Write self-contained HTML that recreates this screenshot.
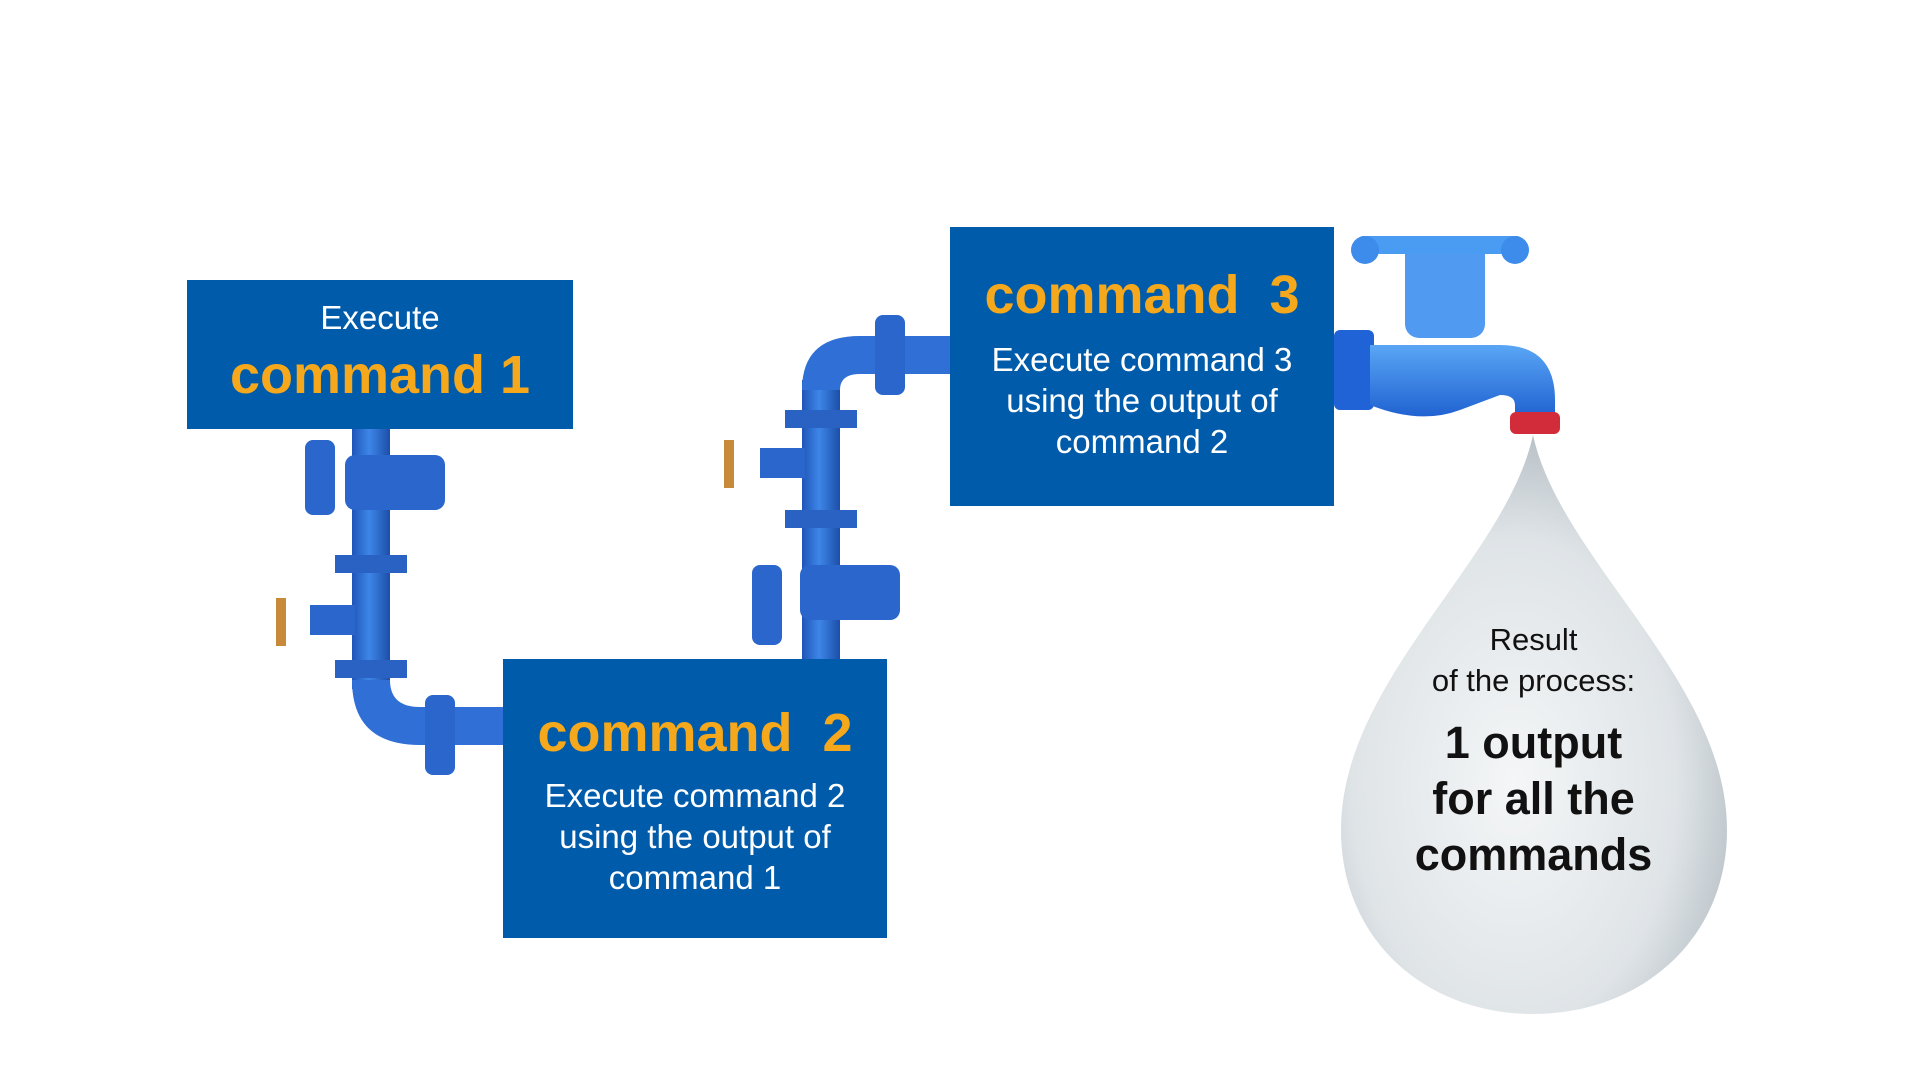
<!DOCTYPE html>
<html><head><meta charset="utf-8"><style>
body{margin:0;width:1920px;height:1080px;background:#fff;position:relative;overflow:hidden;font-family:"Liberation Sans",sans-serif}
.box{position:absolute;background:#005baa;color:#fff;text-align:center}
.or{color:#f5a81c;font-weight:bold;font-size:54px;line-height:60px}
.t{font-size:33px;line-height:41px}
svg{position:absolute;left:0;top:0}
.drop{position:absolute;left:1341px;top:560px;width:385px;text-align:center;color:#111}
</style></head><body>
<svg width="1920" height="1080">
<defs>
<linearGradient id="pv" x1="0" x2="1"><stop offset="0" stop-color="#1f55b8"/><stop offset=".45" stop-color="#3d86e8"/><stop offset="1" stop-color="#1c4ea8"/></linearGradient>
<radialGradient id="dr" cx=".45" cy=".6" r=".6"><stop offset="0" stop-color="#f4f6f7"/><stop offset=".7" stop-color="#dfe4e7"/><stop offset="1" stop-color="#b9c2c8"/></radialGradient>
<linearGradient id="tap" x1="0" x2="0" y1="0" y2="1"><stop offset="0" stop-color="#5aa6f5"/><stop offset="1" stop-color="#1d5fd0"/></linearGradient>
</defs>
<rect x="352" y="429" width="38" height="260" fill="url(#pv)"/>
<path d="M352 680 Q352 745 420 745 L503 745 L503 707 L420 707 Q390 707 390 680Z" fill="#2f6fd6"/>
<rect x="345" y="455" width="100" height="55" rx="10" fill="#2a66cc"/>
<rect x="305" y="440" width="30" height="75" rx="8" fill="#2a66cc"/>
<rect x="335" y="555" width="72" height="18" fill="#2a62c4"/><rect x="335" y="660" width="72" height="18" fill="#2a62c4"/>
<rect x="310" y="605" width="45" height="30" fill="#2a66cc"/>
<rect x="276" y="598" width="10" height="48" fill="#c78a3a"/>
<rect x="425" y="695" width="30" height="80" rx="8" fill="#2a66cc"/>
<rect x="802" y="380" width="38" height="280" fill="url(#pv)"/>
<path d="M802 390 Q802 336 860 336 L950 336 L950 374 L860 374 Q840 374 840 390Z" fill="#2f6fd6"/>
<rect x="875" y="315" width="30" height="80" rx="8" fill="#2a66cc"/>
<rect x="785" y="410" width="72" height="18" fill="#2a62c4"/><rect x="785" y="510" width="72" height="18" fill="#2a62c4"/>
<rect x="760" y="448" width="45" height="30" fill="#2a66cc"/>
<rect x="724" y="440" width="10" height="48" fill="#c78a3a"/>
<rect x="800" y="565" width="100" height="55" rx="10" fill="#2a66cc"/>
<rect x="752" y="565" width="30" height="80" rx="8" fill="#2a66cc"/>
<rect x="1334" y="330" width="40" height="80" rx="6" fill="#1f63d6"/>
<path d="M1370 345 L1500 345 Q1555 345 1555 400 L1555 420 L1515 420 L1515 405 Q1515 395 1500 395 L1460 410 Q1420 425 1370 405Z" fill="url(#tap)"/>
<rect x="1405" y="238" width="80" height="100" rx="14" fill="#3e8ff0" opacity=".9"/>
<rect x="1355" y="236" width="170" height="18" rx="9" fill="#4a9bf2"/>
<circle cx="1365" cy="250" r="14" fill="#3d8cec"/><circle cx="1515" cy="250" r="14" fill="#3d8cec"/>
<rect x="1510" y="412" width="50" height="22" rx="6" fill="#d22b3a"/>
<path d="M1533 435 C1560 560 1727 680 1727 830 C1727 940 1640 1014 1533 1014 C1426 1014 1341 940 1341 830 C1341 680 1506 560 1533 435Z" fill="url(#dr)"/>
</svg>
<div class="box" style="left:187px;top:280px;width:386px;height:149px">
<div style="font-size:33px;line-height:38px;margin-top:19px">Execute</div>
<div class="or" style="margin-top:8px">command 1</div></div>
<div class="box" style="left:503px;top:659px;width:384px;height:279px">
<div class="or" style="margin-top:44px">command&nbsp; 2</div>
<div class="t" style="margin-top:12px">Execute command 2<br>using the output of<br>command 1</div></div>
<div class="box" style="left:950px;top:227px;width:384px;height:279px">
<div class="or" style="margin-top:38px">command&nbsp; 3</div>
<div class="t" style="margin-top:14px">Execute command 3<br>using the output of<br>command 2</div></div>
<div class="drop" style="top:619px">
<div style="font-size:31px;line-height:41px">Result<br>of the process:</div>
<div style="font-size:45px;font-weight:bold;line-height:56px;margin-top:14px">1 output<br>for all the<br>commands</div>
</div>
</body></html>
